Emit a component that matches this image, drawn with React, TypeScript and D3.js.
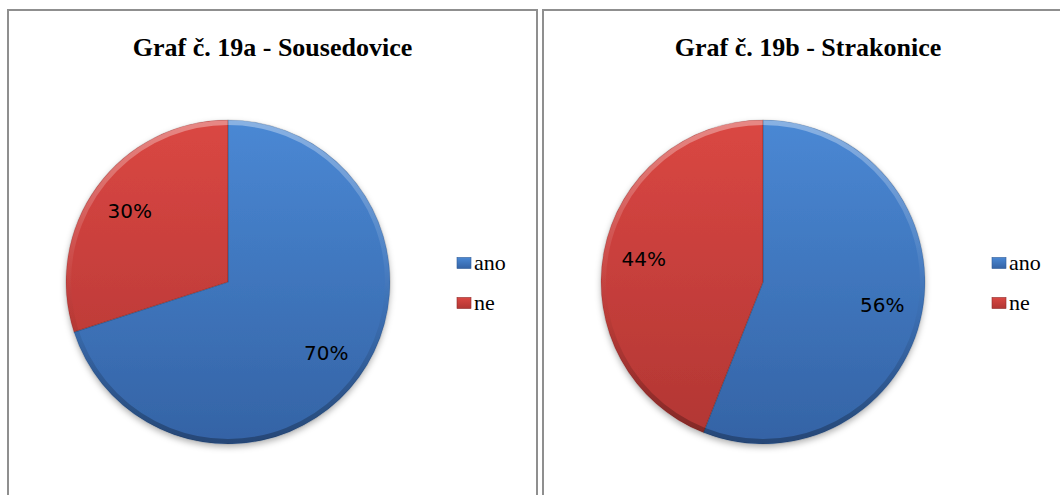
import React from "react";
import * as d3 from "d3";

const titles = ["Graf č. 19a - Sousedovice", "Graf č. 19b - Strakonice"];
const categories = ["ano", "ne"];
const sousedovice = [70, 30];
const strakonice = [56, 44];
const seriesList = [sousedovice, strakonice];

const W = 1060;
const H = 495;
const panels = [
  { x0: 8, x1: 537 },
  { x0: 543, x1: 1073 },
];
const R = 162;
const CY = 282;

const fills = {
  ano: { top: "#4a88d4", bottom: "#3463a5", edge: "#2f5a96" },
  ne: { top: "#da4743", bottom: "#b13633", edge: "#8e2b29" },
};

export default function App() {
  const pie = d3.pie<number>().sort(null).value((d) => d);
  const arc = d3.arc<d3.PieArcDatum<number>>().innerRadius(0).outerRadius(R);
  const labelArc = d3
    .arc<d3.PieArcDatum<number>>()
    .innerRadius(R * 0.75)
    .outerRadius(R * 0.75);
  const legendY = d3.scalePoint<string>().domain(categories).range([263, 303]);
  const color = d3
    .scaleOrdinal<string, { top: string; bottom: string; edge: string }>()
    .domain(categories)
    .range([fills.ano, fills.ne]);

  return (
    <svg
      width={W}
      height={H}
      style={{ position: "absolute", left: 0, top: 0, background: "#fff" }}
    >
      <defs>
        <filter id="shadow" x="-20%" y="-20%" width="140%" height="150%">
          <feDropShadow dx="0" dy="3" stdDeviation="3" floodColor="#000" floodOpacity="0.3" />
        </filter>
        <linearGradient id="rim" x1="0" y1="0" x2="0" y2="1">
          <stop offset="0" stopColor="#fff" stopOpacity="0.35" />
          <stop offset="0.45" stopColor="#fff" stopOpacity="0.05" />
          <stop offset="0.6" stopColor="#000" stopOpacity="0.03" />
          <stop offset="1" stopColor="#000" stopOpacity="0.28" />
        </linearGradient>
        <clipPath id="pieClip">
          <circle r={R} />
        </clipPath>
        {panels.map((p, pi) =>
          categories.map((c) => (
            <linearGradient
              key={`g${pi}${c}`}
              id={`g${pi}${c}`}
              gradientUnits="userSpaceOnUse"
              x1={0}
              y1={-R}
              x2={0}
              y2={R}
            >
              <stop offset="0" stopColor={color(c).top} />
              <stop offset="1" stopColor={color(c).bottom} />
            </linearGradient>
          ))
        )}
        {categories.map((c) => (
          <linearGradient key={`lg${c}`} id={`lg${c}`} x1="0" y1="0" x2="0" y2="1">
            <stop offset="0" stopColor={color(c).top} />
            <stop offset="1" stopColor={color(c).bottom} />
          </linearGradient>
        ))}
      </defs>
      {panels.map((p, pi) => {
        const cx = p.x0 + 220;
        const arcs = pie(seriesList[pi]);
        return (
          <g key={pi}>
            <rect
              x={p.x0}
              y={10}
              width={p.x1 - p.x0}
              height={H + 20}
              fill="#fff"
              stroke="#8f8f8f"
              strokeWidth={2}
            />
            <text
              x={(p.x0 + p.x1) / 2}
              y={56}
              textAnchor="middle"
              fontFamily="'Liberation Serif', 'Times New Roman', serif"
              fontWeight="bold"
              fontSize={26}
              fill="#000"
            >
              {titles[pi]}
            </text>
            <g transform={`translate(${cx},${CY})`}>
              <g filter="url(#shadow)">
                {arcs.map((a, i) => (
                  <path key={i} d={arc(a) || ""} fill={`url(#g${pi}${categories[i]})`} />
                ))}
              </g>
              <g clipPath="url(#pieClip)">
                <circle r={R - 2.5} fill="none" stroke="url(#rim)" strokeWidth={5} />
              </g>
              {arcs.map((a, i) => (
                <path
                  key={`s${i}`}
                  d={arc(a) || ""}
                  fill="none"
                  stroke="#000"
                  strokeOpacity={0.12}
                  strokeWidth={1.2}
                  strokeLinejoin="round"
                />
              ))}
              {arcs.map((a, i) => {
                const [lx, ly] = labelArc.centroid(a);
                return (
                  <text
                    key={`t${i}`}
                    x={lx}
                    y={ly}
                    textAnchor="middle"
                    dominantBaseline="central"
                    fontFamily="'DejaVu Sans', Verdana, sans-serif"
                    fontSize={20}
                    fill="#000"
                  >
                    {`${seriesList[pi][i]}%`}
                  </text>
                );
              })}
            </g>
            {categories.map((c) => (
              <g key={c} transform={`translate(${p.x0 + 449},${legendY(c)})`}>
                <rect
                  x={0}
                  y={-5.5}
                  width={14}
                  height={11}
                  fill={`url(#lg${c})`}
                  stroke={color(c).edge}
                  strokeWidth={0.6}
                />
                <text
                  x={17}
                  y={6.5}
                  fontFamily="'Liberation Serif', 'Times New Roman', serif"
                  fontSize={22}
                  fill="#000"
                >
                  {c}
                </text>
              </g>
            ))}
          </g>
        );
      })}
    </svg>
  );
}
